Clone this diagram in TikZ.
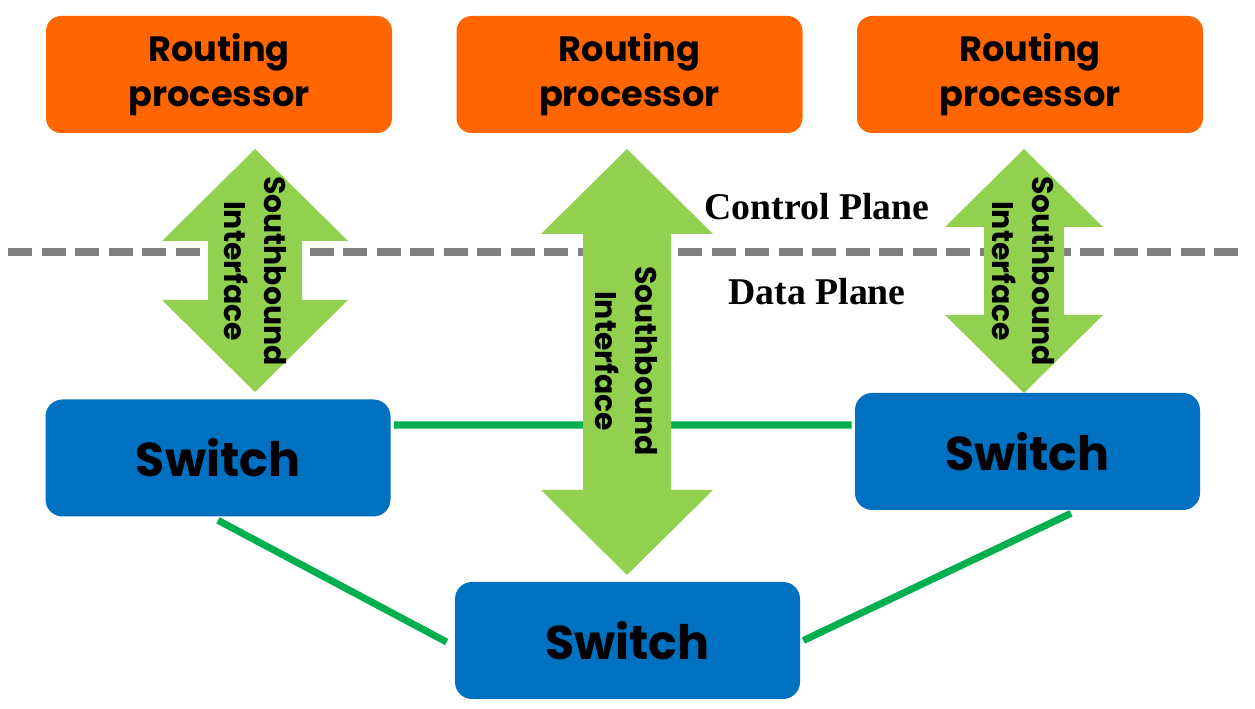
\documentclass[tikz,border=0pt]{standalone}
\usepackage{fontspec}
\setmainfont{Liberation Serif}
\newfontfamily\boxfont{Poppins}
\usetikzlibrary{positioning}
\definecolor{rporange}{HTML}{FF6600}
\definecolor{swblue}{HTML}{0070C0}
\definecolor{arrowgreen}{HTML}{92D050}
\definecolor{linkgreen}{HTML}{00B050}
\definecolor{planegray}{HTML}{808080}

\begin{document}
\begin{tikzpicture}[
		rpnode/.style={fill=rporange,rounded corners=0.3cm,minimum width=6.92cm,minimum height=2.34cm,align=center,font=\boxfont\bfseries\fontsize{20}{25.6}\selectfont},
		swnode/.style={fill=swblue,rounded corners=0.34cm,minimum width=6.9cm,minimum height=2.34cm,font=\boxfont\bfseries\fontsize{27}{32}\selectfont},
		link/.style={draw=linkgreen,line width=4pt},
		sbarrow/.style={fill=arrowgreen},
		sblabel/.style={rotate=-90,align=center,font=\boxfont\bfseries\fontsize{17}{22.8}\selectfont},
		planelabel/.style={font=\bfseries\fontsize{21.5}{26}\selectfont}
		]
		\useasboundingbox (0,0) rectangle (25.1,14.18);
		% routing processors
		\node[rpnode] (rpl) at (4.38,12.69) {Routing\\processor};
		\node[rpnode] (rpm) at (12.59,12.69) {Routing\\processor};
		\node[rpnode] (rpr) at (20.60,12.69) {Routing\\processor};
		% switches
		\node[swnode] (swl) at (4.36,5.02) {Switch};
		\node[swnode] (swr) at (20.55,5.15) {Switch};
		\node[swnode] (swb) at (12.55,1.37) {Switch};
		% plane boundary
		\coordinate (bl) at (0.16,9.14);
		\coordinate (br) at (24.90,9.14);
		\draw[planegray,line width=5.1pt,dash pattern=on 0.48cm off 0.19cm] (bl) -- (br);
		\node[planelabel] (cp) at (16.34,10.04) {Control Plane};
		\node[planelabel,below=0.92cm of cp] (dp) {Data Plane};
		% links
		\draw[link] ([shift={(0.06,0.66)}]swl.east) -- ([shift={(-0.06,0.53)}]swr.west);
		\draw[link] ([yshift=-0.07cm]swl.south) -- ([shift={(-0.16,-0.03)}]swb.west);
		\draw[link] ([shift={(0.87,-0.06)}]swr.south) -- ([xshift=0.06cm]swb.east);
		% southbound arrows
		\foreach \cx/\yt/\yb/\hl/\hw/\sw in {5.10/11.20/6.34/1.84/1.86/0.94, 12.54/11.20/2.68/1.70/1.72/0.88, 20.48/11.20/6.32/1.56/1.58/0.80}
		{
			\fill[sbarrow] (\cx,\yt) -- (\cx+\hw,\yt-\hl) -- (\cx+\sw,\yt-\hl) -- (\cx+\sw,\yb+\hl)
				-- (\cx+\hw,\yb+\hl) -- (\cx,\yb) -- (\cx-\hw,\yb+\hl) -- (\cx-\sw,\yb+\hl)
				-- (\cx-\sw,\yt-\hl) -- (\cx-\hw,\yt-\hl) -- cycle;
		}
		\node[sblabel] (sbl) at (5.10,8.76) {Southbound\\Interface};
		\node[sblabel] (sbm) at (12.53,6.96) {Southbound\\Interface};
		\node[sblabel] (sbr) at (20.47,8.76) {Southbound\\Interface};
	\end{tikzpicture}
\end{document}
